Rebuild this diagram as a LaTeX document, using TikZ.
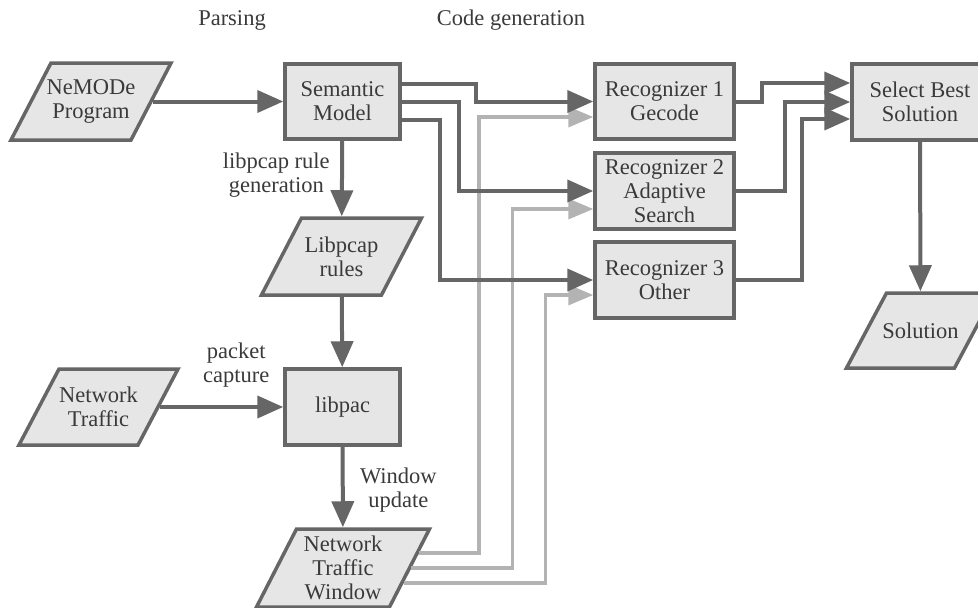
\documentclass[tikz,border=0pt]{standalone}
\usepackage{fontspec}
\setmainfont{Liberation Serif}
\usepackage{xcolor}
\usepackage{tikz}
\usetikzlibrary{arrows.meta,positioning}
\definecolor{ink}{HTML}{3A3A3A}
\definecolor{wire}{HTML}{666666}
\definecolor{wirelight}{HTML}{B3B3B3}
\definecolor{boxfill}{HTML}{E6E6E6}
\colorlet{boxline}{wire}
\def\ioslant{40}
% parallelogram data box: name, centre, mid width, height, text
\newcommand{\IOData}[5]{%
  \draw[iodata] (#2) ++({-(#3)/2-\ioslant/2},{(#4)/2}) -- ++(#3,0)
    -- ++(\ioslant,{-(#4)}) -- ++({-(#3)},0) -- cycle;
  \node[iotext, minimum width=#3pt, minimum height=#4pt] (#1) at (#2) {#5};
}

\begin{document}
\begin{tikzpicture}[
  x=1pt, y=-1pt,
  every node/.style={font=\fontsize{22.5}{24}\selectfont, text=ink},
  block/.style={
    rectangle, draw=boxline, fill=boxfill, line width=3.5pt,
    align=center, inner sep=2pt, minimum height=76pt
  },
  iodata/.style={draw=boxline, fill=boxfill, line width=3.5pt},
  iotext/.style={rectangle, align=center, inner sep=0pt, outer sep=1.75pt},
  flow/.style={-{Triangle[length=26pt,width=22pt]}, draw=wire, line width=4pt},
  feed/.style={-{Triangle[length=25pt,width=20pt]}, draw=wirelight, line width=3.5pt},
  note/.style={align=center}
]

% ---------- Frame ----------
\useasboundingbox (0,0) rectangle (978,608);
\clip (0,0) rectangle (978,608);

% ---------- Phase headers ----------
\node (hparse) at (232,20) {Parsing};
\node (hcode)  at (511,20) {Code generation};

% ---------- Parsing side ----------
\IOData{nemode}{91,101.5}{120}{77}{NeMODe\\Program}
\node[block, minimum width=115pt, minimum height=75pt] (sem) at (342.5,101.5) {Semantic\\Model};
\IOData{rules}{341.5,256.5}{120}{77}{Libpcap\\rules}
\node[block, minimum width=115pt] (libpac) at (342.5,407) {libpac};
\IOData{traffic}{98.5,407}{119}{76}{Network\\Traffic}
\IOData{window}{343,568}{133}{78}{Network\\Traffic\\Window}

% ---------- Recognizers + selection ----------
\node[block, minimum width=139pt, minimum height=75pt] (rec1) at (664.5,101.5) {Recognizer 1\\Gecode};
\node[block, minimum width=139pt] (rec2) at (664.5,191) {Recognizer 2\\Adaptive\\Search};
\node[block, minimum width=139pt] (rec3) at (664.5,280) {Recognizer 3\\Other};
\node[block, minimum width=136pt] (select) at (920,102) {Select Best\\Solution};
\IOData{solution}{920.5,330.5}{108}{75}{Solution}

% ---------- Window feeds ----------
\draw[feed] ([shift={(7.7,-15)}]window.east) -- ++(60,0) |- ([yshift=-15.5]rec1.west);
\draw[feed] (window.east)                    -- ++(101,0) |- ([yshift=-18]rec2.west);
\draw[feed] ([shift={(-7.7,15)}]window.east) -- ++(142,0) |- ([yshift=-15]rec3.west);

% ---------- Main flow ----------
\draw[flow] (nemode) -- (sem);
\draw[flow] (sem) -- node[left, note, pos=0.45, xshift=-7pt] {libpcap rule\\generation} (rules);
\draw[flow] (rules) -- (libpac);
\draw[flow] (traffic) -- node[above, note, pos=0.62, yshift=14pt] {packet\\capture} (libpac);
\draw[flow] (libpac) -- node[right, note, xshift=12pt, yshift=-3pt] {Window\\update} (window);

\draw[flow] ([yshift=18]sem.east)  -- ++(74,0) |- (rec1.west);
\draw[flow] (sem.east)             -- ++(57,0) |- (rec2.west);
\draw[flow] ([yshift=-18]sem.east) -- ++(38,0) |- (rec3.west);

\draw[flow] (rec1.east) -- ++(26,0) |- ([yshift=19]select.west);
\draw[flow] (rec2.east) -- ++(49,0) |- (select.west);
\draw[flow] (rec3.east) -- ++(66,0) |- ([yshift=-17]select.west);

\draw[flow] (select) -- (solution);

\end{tikzpicture}
\end{document}
